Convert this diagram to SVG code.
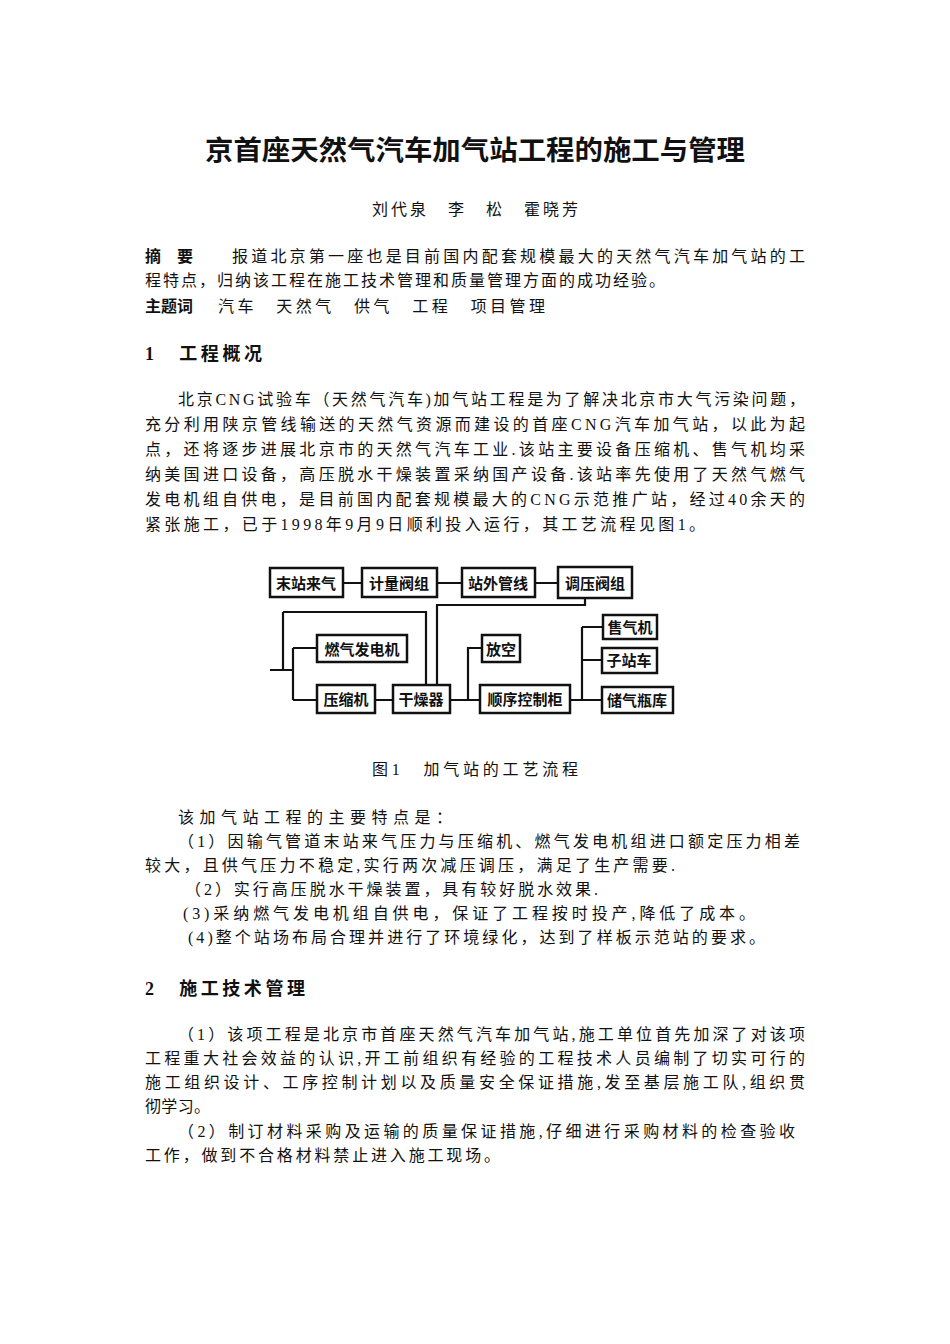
<svg xmlns="http://www.w3.org/2000/svg" width="950" height="1344" viewBox="0 0 950 1344">
<style>
text{font-family:"Liberation Serif","Noto Sans CJK SC",serif;fill:#111}
.b{font-size:16px}
.h{font-size:18px;font-weight:bold}
.n rect{fill:#fff;stroke:#111;stroke-width:2.5}
.n text{font-size:15px;font-weight:bold;text-anchor:middle;font-family:"Noto Sans CJK SC",sans-serif}
#connectors path{fill:none;stroke:#111;stroke-width:2.2}
</style>
<rect width="950" height="1344" fill="#fff"/>
<text x="205" y="160" style="font-size:27px;font-weight:bold" textLength="540" lengthAdjust="spacingAndGlyphs">京首座天然气汽车加气站工程的施工与管理</text>
<text x="372" y="215" class="b" textLength="206" lengthAdjust="spacing">刘代泉　李　松　霍晓芳</text>
<text x="145" y="262" class="b" font-weight="bold">摘　要</text>
<text x="232" y="262" class="b" textLength="573" lengthAdjust="spacing">报道北京第一座也是目前国内配套规模最大的天然气汽车加气站的工</text>
<text x="145" y="286" class="b" textLength="520" lengthAdjust="spacing">程特点，归纳该工程在施工技术管理和质量管理方面的成功经验。</text>
<text x="145" y="312" class="b" font-weight="bold">主题词</text>
<text x="218" y="312" class="b" textLength="327" lengthAdjust="spacing">汽车　天然气　供气　工程　项目管理</text>
<text x="145" y="360" class="h" textLength="117" lengthAdjust="spacing">1　工程概况</text>
<text x="178" y="405" class="b" textLength="627" lengthAdjust="spacing">北京CNG试验车（天然气汽车)加气站工程是为了解决北京市大气污染问题，</text>
<text x="145" y="430" class="b" textLength="660" lengthAdjust="spacing">充分利用陕京管线输送的天然气资源而建设的首座CNG汽车加气站，以此为起</text>
<text x="145" y="455" class="b" textLength="660" lengthAdjust="spacing">点，还将逐步进展北京市的天然气汽车工业.该站主要设备压缩机、售气机均采</text>
<text x="145" y="480" class="b" textLength="660" lengthAdjust="spacing">纳美国进口设备，高压脱水干燥装置采纳国产设备.该站率先使用了天然气燃气</text>
<text x="145" y="505" class="b" textLength="660" lengthAdjust="spacing">发电机组自供电，是目前国内配套规模最大的CNG示范推广站，经过40余天的</text>
<text x="145" y="530" class="b" textLength="560" lengthAdjust="spacing">紧张施工，已于1998年9月9日顺利投入运行，其工艺流程见图1。</text>
<g id="connectors">
<path d="M343 583H362M437 583H462M535 583H558"/>
<path d="M585 598V605H437V685"/>
<path d="M283 612H426V685"/>
<path d="M283 612V670M270 670H293M293 648V700M293 648H317M293 700H317"/>
<path d="M375 700H393M450 700H480M468 700V648H482"/>
<path d="M570 700H602M582 627V700M582 627H603M582 660H602"/>
</g>
<g id="n1" class="n"><rect x="270" y="568" width="73" height="29"/><text x="306" y="589">末站来气</text></g>
<g id="n2" class="n"><rect x="362" y="568" width="75" height="29"/><text x="399" y="589">计量阀组</text></g>
<g id="n3" class="n"><rect x="462" y="568" width="73" height="29"/><text x="498" y="589">站外管线</text></g>
<g id="n4" class="n"><rect x="558" y="567" width="74" height="31"/><text x="595" y="589">调压阀组</text></g>
<g id="n5" class="n"><rect x="317" y="635" width="90" height="27"/><text x="362" y="655">燃气发电机</text></g>
<g id="n6" class="n"><rect x="317" y="685" width="58" height="28"/><text x="346" y="705">压缩机</text></g>
<g id="n7" class="n"><rect x="393" y="685" width="57" height="28"/><text x="421" y="705">干燥器</text></g>
<g id="n8" class="n"><rect x="482" y="635" width="38" height="27"/><text x="501" y="655">放空</text></g>
<g id="n9" class="n"><rect x="480" y="685" width="90" height="28"/><text x="525" y="705">顺序控制柜</text></g>
<g id="n10" class="n"><rect x="603" y="615" width="54" height="24"/><text x="630" y="633">售气机</text></g>
<g id="n11" class="n"><rect x="602" y="648" width="55" height="25"/><text x="629" y="666">子站车</text></g>
<g id="n12" class="n"><rect x="602" y="687" width="71" height="26"/><text x="637" y="706">储气瓶库</text></g>
<text x="372" y="775" class="b" textLength="206" lengthAdjust="spacing">图1　加气站的工艺流程</text>
<text x="178" y="823" class="b" textLength="274" lengthAdjust="spacing">该加气站工程的主要特点是：</text>
<text x="178" y="847" class="b" textLength="622" lengthAdjust="spacing">（1）因输气管道末站来气压力与压缩机、燃气发电机组进口额定压力相差</text>
<text x="145" y="871" class="b" textLength="530" lengthAdjust="spacing">较大，且供气压力不稳定,实行两次减压调压，满足了生产需要.</text>
<text x="185" y="895" class="b" textLength="413" lengthAdjust="spacing">（2）实行高压脱水干燥装置，具有较好脱水效果.</text>
<text x="183" y="919" class="b" textLength="572" lengthAdjust="spacing">(3)采纳燃气发电机组自供电，保证了工程按时投产,降低了成本。</text>
<text x="188" y="943" class="b" textLength="577" lengthAdjust="spacing">(4)整个站场布局合理并进行了环境绿化，达到了样板示范站的要求。</text>
<text x="145" y="995" class="h" textLength="160" lengthAdjust="spacing">2　施工技术管理</text>
<text x="178" y="1040" class="b" textLength="627" lengthAdjust="spacing">（1）该项工程是北京市首座天然气汽车加气站,施工单位首先加深了对该项</text>
<text x="145" y="1064" class="b" textLength="660" lengthAdjust="spacing">工程重大社会效益的认识,开工前组织有经验的工程技术人员编制了切实可行的</text>
<text x="145" y="1088" class="b" textLength="660" lengthAdjust="spacing">施工组织设计、工序控制计划以及质量安全保证措施,发至基层施工队,组织贯</text>
<text x="145" y="1112" class="b" textLength="65" lengthAdjust="spacing">彻学习。</text>
<text x="178" y="1137" class="b" textLength="617" lengthAdjust="spacing">（2）制订材料采购及运输的质量保证措施,仔细进行采购材料的检查验收</text>
<text x="145" y="1161" class="b" textLength="355" lengthAdjust="spacing">工作，做到不合格材料禁止进入施工现场。</text>
</svg>
